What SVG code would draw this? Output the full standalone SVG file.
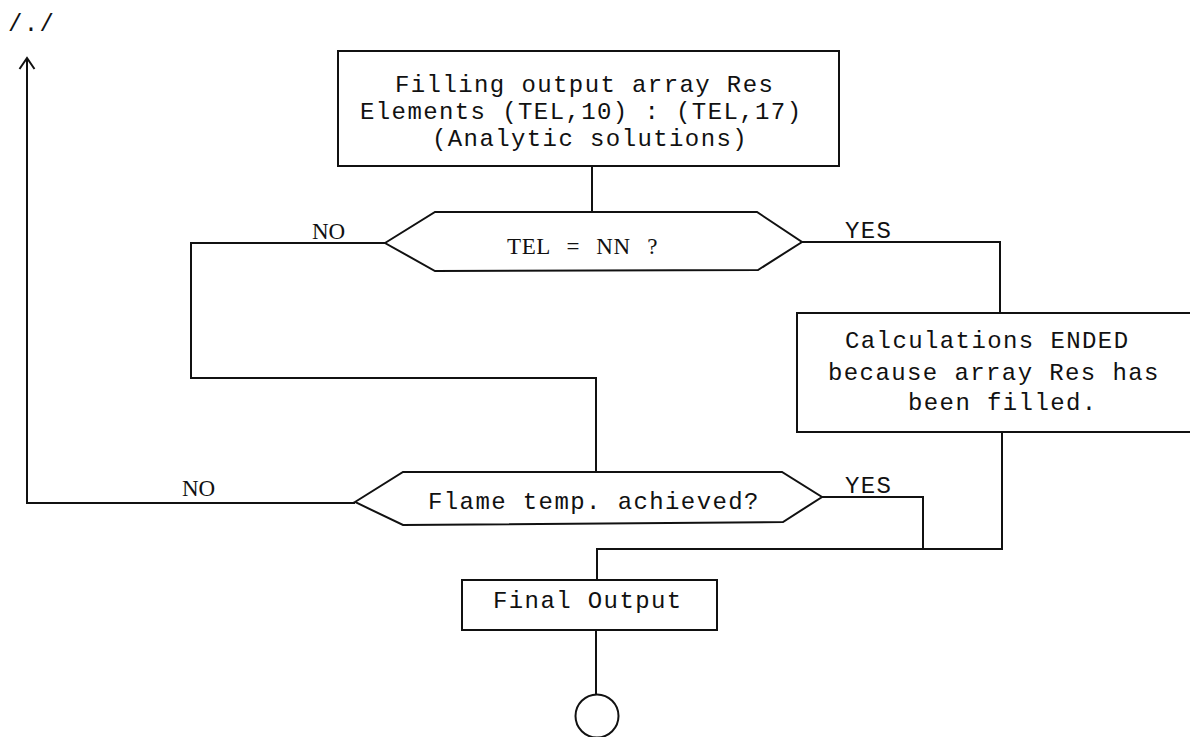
<svg xmlns="http://www.w3.org/2000/svg" width="1190" height="737" viewBox="0 0 1190 737">
  <style>
    .shape { fill: #ffffff; stroke: #111111; stroke-width: 2; }
    .wire { fill: none; stroke: #111111; stroke-width: 2; stroke-linejoin: miter; }
    .mono { font-family: "Liberation Mono", "DejaVu Sans Mono", monospace; font-size: 24px; letter-spacing: 1.4px; fill: #111111; }
    .serif { font-family: "Liberation Serif", "DejaVu Serif", serif; font-size: 23px; fill: #111111; }
  </style>
  <rect width="1190" height="737" fill="#ffffff"/>

  <!-- page continuation mark -->
  <text class="mono" x="8" y="31">/./</text>

  <!-- connectors -->
  <g id="connectors">
    <!-- top box to TEL = NN ? -->
    <path class="wire" d="M592,166 L592,212"/>
    <!-- NO branch of TEL = NN ? back into flame test -->
    <path class="wire" d="M385,243 L191,243 L191,378 L596,378 L596,472"/>
    <!-- YES branch of TEL = NN ? -->
    <path class="wire" d="M802,242 L1000,242 L1000,313"/>
    <!-- NO branch of flame test, looping back up -->
    <path class="wire" d="M355,503 L27,503 L27,59"/>
    <path class="wire" d="M19.5,69 L27,58 L34.5,69"/>
    <!-- YES branch of flame test -->
    <path class="wire" d="M822,497 L923,497 L923,549"/>
    <!-- merge into Final Output -->
    <path class="wire" d="M1002,432 L1002,549 L597,549 L597,580"/>
    <!-- Final Output to terminator -->
    <path class="wire" d="M596,630 L596,694"/>
  </g>

  <!-- labels on branches -->
  <g id="branch-labels">
    <text class="serif" x="312" y="239">NO</text>
    <text class="mono" x="845" y="238">YES</text>
    <text class="serif" x="182" y="496">NO</text>
    <text class="mono" x="845" y="493">YES</text>
  </g>

  <g id="fill-output">
    <rect class="shape" x="338" y="51" width="501" height="115"/>
    <text class="mono" x="395" y="92">Filling output array Res</text>
    <text class="mono" x="360" y="119">Elements (TEL,10) : (TEL,17)</text>
    <text class="mono" x="432" y="146">(Analytic solutions)</text>
  </g>

  <g id="test-tel">
    <polygon class="shape" points="385,243 435,212 757,212 802,242 758,270 435,271"/>
    <text class="serif" x="507" y="254" font-size="24" word-spacing="10" letter-spacing="0.6">TEL = NN ?</text>
  </g>

  <g id="calc-ended">
    <rect class="shape" x="797" y="313" width="410" height="119"/>
    <text class="mono" x="845" y="348">Calculations ENDED</text>
    <text class="mono" x="828" y="380">because array Res has</text>
    <text class="mono" x="908" y="410">been filled.</text>
  </g>

  <g id="test-flame">
    <polygon class="shape" points="355,502 403,472 782,472 822,497 783,522 403,525"/>
    <text class="mono" x="428" y="509">Flame temp. achieved?</text>
  </g>

  <g id="final-output">
    <rect class="shape" x="462" y="580" width="255" height="50"/>
    <text class="mono" x="493" y="608">Final Output</text>
  </g>

  <g id="terminator">
    <circle class="shape" cx="597" cy="716" r="21.5"/>
  </g>
</svg>
